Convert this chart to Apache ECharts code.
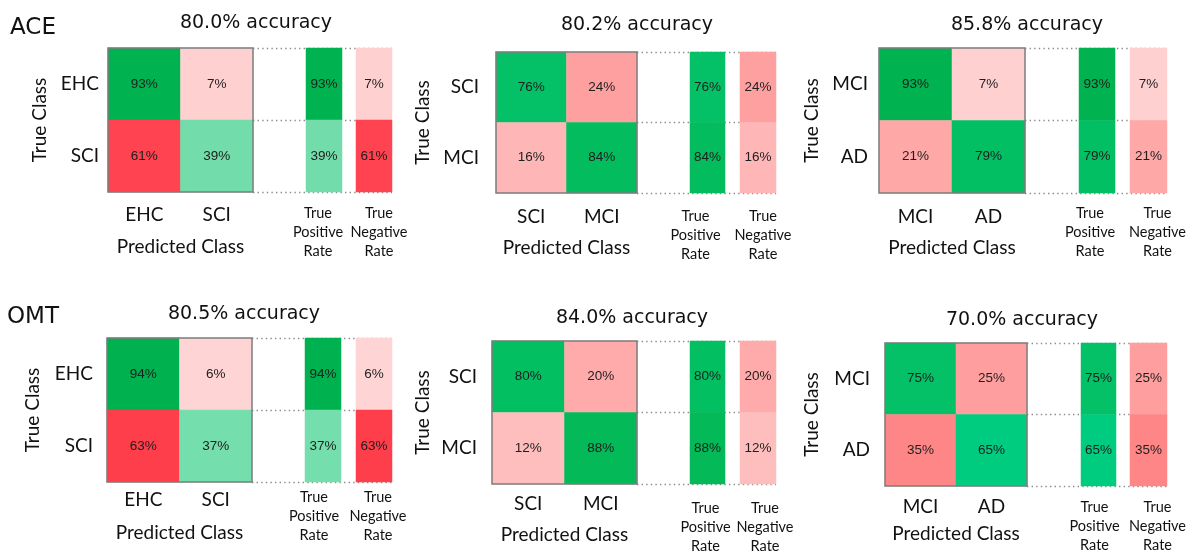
<!DOCTYPE html>
<html>
<head>
<meta charset="utf-8">
<script src="https://cdn.jsdelivr.net/npm/echarts@6/dist/echarts.min.js"></script>
<style>
  html, body { margin: 0; padding: 0; background: #fff; }
  #main { width: 1194px; height: 552px; }
</style>
</head>
<body>
<div id="main"></div>
<script>
// values
var groupNames = ['ACE', 'OMT'];
var accuracy = ['80.0%', '80.2%', '85.8%', '80.5%', '84.0%', '70.0%'];
var classPairs = [['EHC', 'SCI'], ['SCI', 'MCI'], ['MCI', 'AD'], ['EHC', 'SCI'], ['SCI', 'MCI'], ['MCI', 'AD']];
var aceEhcSci = [[93, 7], [61, 39]];
var aceSciMci = [[76, 24], [16, 84]];
var aceMciAd = [[93, 7], [21, 79]];
var omtEhcSci = [[94, 6], [63, 37]];
var omtSciMci = [[80, 20], [12, 88]];
var omtMciAd = [[75, 25], [35, 65]];
var tprValues = [[93, 39], [76, 84], [93, 79], [94, 37], [80, 88], [75, 65]];
var tnrValues = [[7, 61], [24, 16], [7, 21], [6, 63], [20, 12], [25, 35]];
var rateNames = ['True\nPositive\nRate', 'True\nNegative\nRate'];

var matrices = [aceEhcSci, aceSciMci, aceMciAd, omtEhcSci, omtSciMci, omtMciAd];

// panel layout (pixels)
var panels = [
  {m: [108, 48, 253, 192], tpr: [306, 342], tnr: [356, 392], title: [256, 23], rowGap: 9,  nameGap: 68, colGap: 23, predGap: 55, rateGap: 21, tprShift: -6,  tnrShift: 5},
  {m: [496, 52, 637, 193], tpr: [690, 725], tnr: [740, 776], title: [637, 25], rowGap: 17, nameGap: 73, colGap: 24, predGap: 55, rateGap: 23, tprShift: -12, tnrShift: 5},
  {m: [879, 48, 1025, 193], tpr: [1079, 1115], tnr: [1130, 1167], title: [1027, 25], rowGap: 11, nameGap: 67, colGap: 24, predGap: 55, rateGap: 20, tprShift: -7, tnrShift: 9},
  {m: [107, 338, 252, 482], tpr: [305, 341], tnr: [356, 392], title: [244, 314], rowGap: 14, nameGap: 74, colGap: 18, predGap: 51, rateGap: 15, tprShift: -9,  tnrShift: 4},
  {m: [492, 341, 637, 484], tpr: [690, 725], tnr: [740, 776], title: [632, 318], rowGap: 15, nameGap: 69, colGap: 20, predGap: 51, rateGap: 24, tprShift: -2,  tnrShift: 7},
  {m: [885, 343, 1027, 486], tpr: [1081, 1116], tnr: [1130, 1167], title: [1022, 320], rowGap: 15, nameGap: 73, colGap: 21, predGap: 48, rateGap: 21, tprShift: -4, tnrShift: 9}
];

// colour ramps for correct (green) and wrong (red) cells
var greenStops = [[37, '#74deac'], [39, '#72ddaa'], [65, '#00cc80'], [75, '#04c168'], [80, '#02bf62'], [88, '#04b957'], [94, '#00b14f']];
var redStops = [[6, '#ffd4d4'], [12, '#ffbebe'], [16, '#ffb6b6'], [24, '#ffa0a0'], [35, '#ff8686'], [63, '#ff3e4c']];

function hexToRgb(h) {
  return [parseInt(h.substr(1, 2), 16), parseInt(h.substr(3, 2), 16), parseInt(h.substr(5, 2), 16)];
}
function cellColor(v, good) {
  var stops = good ? greenStops : redStops;
  if (v <= stops[0][0]) return stops[0][1];
  for (var i = 1; i < stops.length; i++) {
    if (v <= stops[i][0]) {
      var t = (v - stops[i - 1][0]) / (stops[i][0] - stops[i - 1][0]);
      var a = hexToRgb(stops[i - 1][1]), b = hexToRgb(stops[i][1]);
      return 'rgb(' + [0, 1, 2].map(function (k) { return Math.round(a[k] + (b[k] - a[k]) * t); }).join(',') + ')';
    }
  }
  return stops[stops.length - 1][1];
}

var labelFont = 'Lato';
var cellFont = '"Liberation Sans", Arial, sans-serif';
var grids = [], xAxes = [], yAxes = [], series = [], texts = [];

function cellLabel() {
  return {
    show: true,
    fontFamily: cellFont,
    fontSize: 13.5,
    color: '#1e1e1e',
    formatter: function (p) { return p.value[2] + '%'; }
  };
}
function shiftPad(s) {
  return s < 0 ? [0, -2 * s, 0, 0] : [0, 0, 0, 2 * s];
}

panels.forEach(function (p, i) {
  var g = grids.length;
  var top = p.m[1], h = p.m[3] - p.m[1];

  // dotted guide lines behind the rate columns
  grids.push({left: p.m[2], top: top, width: p.tnr[1] - p.m[2], height: h, outerBoundsMode: 'none'});
  xAxes.push({gridIndex: g, type: 'value', min: 0, max: 1, show: false});
  yAxes.push({
    gridIndex: g, type: 'value', min: 0, max: 2, interval: 1,
    axisLine: {show: false}, axisTick: {show: false}, axisLabel: {show: false},
    splitLine: {show: true, lineStyle: {color: '#8c8c8c', width: 1.3, type: [1.4, 3.2]}}
  });
  series.push({type: 'line', xAxisIndex: g, yAxisIndex: g, data: [], silent: true});

  // confusion matrix
  grids.push({
    left: p.m[0], top: top, width: p.m[2] - p.m[0], height: h, outerBoundsMode: 'none',
    show: true, z: 10, backgroundColor: 'transparent', borderColor: '#7d7d7d', borderWidth: 1.5
  });
  xAxes.push({
    gridIndex: g + 1, type: 'category', data: classPairs[i], position: 'bottom',
    axisLine: {show: false}, axisTick: {show: false}, splitLine: {show: false},
    axisLabel: {margin: p.colGap, verticalAlign: 'middle', fontFamily: labelFont, fontSize: 19, color: '#111'},
    name: 'Predicted Class', nameLocation: 'middle', nameGap: p.predGap,
    nameTextStyle: {fontFamily: labelFont, fontSize: 19, color: '#111', verticalAlign: 'middle'}
  });
  yAxes.push({
    gridIndex: g + 1, type: 'category', data: classPairs[i], inverse: true,
    axisLine: {show: false}, axisTick: {show: false}, splitLine: {show: false},
    axisLabel: {margin: p.rowGap, fontFamily: labelFont, fontSize: 19, color: '#111'},
    name: 'True Class', nameLocation: 'middle', nameGap: p.nameGap, nameRotate: 90,
    nameTextStyle: {fontFamily: labelFont, fontSize: 19, color: '#111', verticalAlign: 'middle'}
  });
  var mData = [];
  matrices[i].forEach(function (row, r) {
    row.forEach(function (v, c) {
      mData.push({value: [c, r, v], itemStyle: {color: cellColor(v, r === c)}});
    });
  });
  series.push({type: 'heatmap', xAxisIndex: g + 1, yAxisIndex: g + 1, data: mData, label: cellLabel(), silent: true});

  // true positive / true negative columns
  [[p.tpr, tprValues[i], true, rateNames[0], p.tprShift], [p.tnr, tnrValues[i], false, rateNames[1], p.tnrShift]].forEach(function (col, k) {
    var gi = g + 2 + k;
    grids.push({left: col[0][0], top: top, width: col[0][1] - col[0][0], height: h, outerBoundsMode: 'none'});
    xAxes.push({
      gridIndex: gi, type: 'category', data: [col[3]], position: 'bottom',
      axisLine: {show: false}, axisTick: {show: false}, splitLine: {show: false},
      axisLabel: {
        margin: p.rateGap - 9.5, verticalAlign: 'top', lineHeight: 19,
        fontFamily: labelFont, fontSize: 14.5, color: '#111', padding: shiftPad(col[4])
      }
    });
    yAxes.push({
      gridIndex: gi, type: 'category', data: ['0', '1'], inverse: true,
      axisLine: {show: false}, axisTick: {show: false}, axisLabel: {show: false}, splitLine: {show: false}
    });
    series.push({
      type: 'heatmap', xAxisIndex: gi, yAxisIndex: gi, silent: true, label: cellLabel(),
      data: col[1].map(function (v, r) { return {value: [0, r, v], itemStyle: {color: cellColor(v, col[2])}}; })
    });
  });

  texts.push({
    type: 'text', x: p.title[0], y: p.title[1],
    style: {text: accuracy[i] + ' accuracy', font: '19px "DejaVu Sans"', fill: '#111', textAlign: 'center', textVerticalAlign: 'middle'}
  });
});

texts.push({type: 'text', x: 10, y: 28, style: {text: groupNames[0], font: '23px "DejaVu Sans"', fill: '#111', textVerticalAlign: 'middle'}});
texts.push({type: 'text', x: 7, y: 317, style: {text: groupNames[1], font: '23px "DejaVu Sans"', fill: '#111', textVerticalAlign: 'middle'}});

var chart = echarts.init(document.getElementById('main'));
chart.setOption({
  animation: false,
  backgroundColor: '#ffffff',
  grid: grids,
  xAxis: xAxes,
  yAxis: yAxes,
  series: series,
  graphic: texts
});
</script>
</body>
</html>
